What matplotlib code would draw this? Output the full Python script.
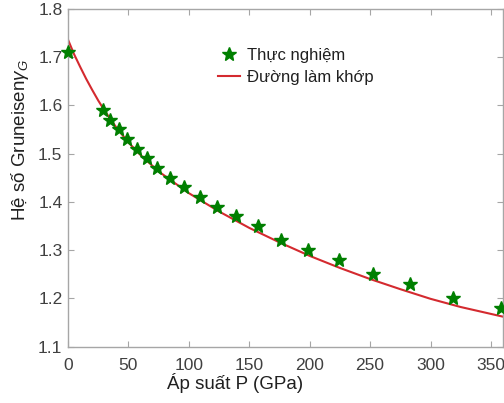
import matplotlib
matplotlib.use("Agg")
import matplotlib.pyplot as plt

plt.rcParams['font.family'] = ['Liberation Sans', 'DejaVu Sans']
plt.rcParams['mathtext.fontset'] = 'custom'
plt.rcParams['mathtext.it'] = 'Liberation Sans:italic'
plt.rcParams['mathtext.rm'] = 'Liberation Sans'

# Experimental points
p_exp = [0, 29, 35, 42, 49, 57, 65, 74, 84, 96, 109, 123, 139, 157, 176, 199, 224, 252, 283, 319, 358]
g_exp = [1.71, 1.59, 1.57, 1.55, 1.53, 1.51, 1.49, 1.47, 1.45, 1.43, 1.41, 1.39, 1.37, 1.35,
         1.32, 1.30, 1.28, 1.25, 1.23, 1.20, 1.18]

# Fitted curve
p_fit = [0, 5, 10, 15, 20, 25, 30, 40, 50, 60, 75, 100, 125, 150, 175, 200, 225, 250, 275,
         300, 325, 360]
g_fit = [1.736, 1.706, 1.680, 1.655, 1.632, 1.610, 1.590, 1.554, 1.523, 1.497, 1.463, 1.418,
         1.380, 1.346, 1.316, 1.288, 1.263, 1.240, 1.219, 1.199, 1.182, 1.162]

fig = plt.figure(figsize=(5.04, 4.03), dpi=100)
ax = fig.add_axes([0.135, 0.14, 0.863, 0.838])

ax.plot(p_fit, g_fit, color='#d42a2f', lw=1.5, label='Đường làm khớp', zorder=2)
ax.plot(p_exp, g_exp, ls='none', marker='*', ms=10.5, color='#007f00', mec='#007f00',
        label='Thực nghiệm', zorder=3, clip_on=False)

ax.set_xlim(0, 360)
ax.set_ylim(1.1, 1.8)
ax.set_xticks([0, 50, 100, 150, 200, 250, 300, 350])
ax.set_yticks([1.1, 1.2, 1.3, 1.4, 1.5, 1.6, 1.7, 1.8])
ax.set_yticklabels(['1.1', '1.2', '1.3', '1.4', '1.5', '1.6', '1.7', '1.8'])

for s in ax.spines.values():
    s.set_color('#a6a6a6')
    s.set_linewidth(1.0)
ax.tick_params(direction='in', top=True, right=True, length=4, width=0.8,
               color='#a6a6a6', labelcolor='#404040', labelsize=12.5)
ax.tick_params(axis='x', pad=8)
ax.tick_params(axis='y', pad=4)

ax.set_xlabel('Áp suất P (GPa)', fontsize=13.5, color='#202020')
ax.set_ylabel('Hệ số Gruneisen$\\gamma_G$', fontsize=13.5, color='#202020')
ax.xaxis.set_label_coords(0.384, -0.078)
ax.yaxis.set_label_coords(-0.085, 0.612)

h, l = ax.get_legend_handles_labels()
leg = ax.legend([h[1], h[0]], [l[1], l[0]], loc='upper left', bbox_to_anchor=(0.33, 0.905),
                frameon=False, fontsize=12, handlelength=1.3, handletextpad=0.4,
                labelspacing=0.45, borderaxespad=0)
for t in leg.get_texts():
    t.set_color('#202020')

fig.savefig('out.png', dpi=100)
